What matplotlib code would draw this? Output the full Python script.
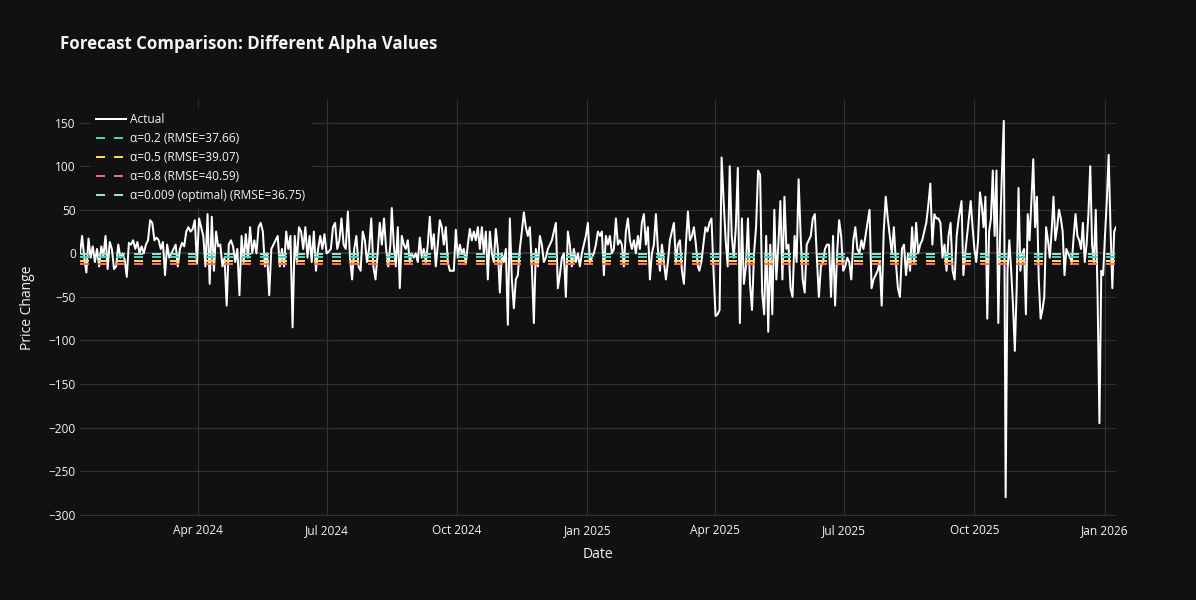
import matplotlib
matplotlib.use('Agg')
import matplotlib.pyplot as plt
import matplotlib.dates as mdates
import pandas as pd

plt.rcParams['font.family'] = ['Open Sans', 'DejaVu Sans']

# actual daily price change in four stretches
seg_spans = [("2024-01-09", "2024-08-15"), ("2024-08-16", "2025-03-20"),
             ("2025-03-21", "2025-09-20"), ("2025-09-22", "2026-01-09")]

actual_1 = [0, 20, -5, -22, 17, -5, 8, -10, 5, -15,
            8, -3, 20, -18, 13, 5, -18, -15, 10, -5,
            0, -7, -27, 12, 10, 15, 5, 13, 0, 8,
            0, 10, 15, 38, 35, 15, 18, 15, 5, 13,
            -25, 10, -5, 0, 5, 10, -15, 5, 12, 8,
            25, 30, 25, 28, 38, -12, 40, 30, 20, -15,
            45, -35, 42, -20, 25, 8, 10, -15, -5, -60,
            10, 15, 8, -10, 5, -48, 20, -10, 22, -5,
            30, 0, 15, 0, 30, 35, 25, -15, 0, -48,
            5, 10, 15, 20, -15, 5, -15, 25, 5, 20,
            -85, 20, -10, 30, 25, 5, 30, -5, 20, -10,
            25, -20, 5, 20, 5, 22, 0, 2, 5, 30,
            35, 5, 15, 40, 10, 5, 48, -5, -30, 5,
            20, -15, -20, 25, 15, -10, 5, 40, -15, -30,
            0, 35, 10, 40, 5, -15, 10]

actual_2 = [52, 10, -15, 30, -40, 20, 10, 5, 15, -10,
            0, -5, 0, -10, 18, -5, 5, -10, 10, 42,
            5, 22, -15, 10, 38, 30, 10, 30, -10, -20,
            -20, -20, 27, -5, 10, 0, 5, -12, 10, 28,
            15, 25, 15, 30, 5, 30, 0, 25, -30, 25,
            0, -10, 28, 5, -45, 0, -10, 5, -82, 40,
            -30, -63, -30, -25, 5, 25, 47, 30, 20, 30,
            -15, -80, 5, -15, 20, 10, -10, -5, 5, 10,
            15, 25, 35, -40, -25, -5, 0, -50, 25, 10,
            -15, 5, -10, 0, -15, 0, 10, 20, 35, -10,
            -5, 0, 10, 25, 20, 25, -25, 20, 10, 20,
            0, 5, 40, 10, 15, 10, -15, 25, 40, 15,
            5, 15, 0, 20, 5, 35, 45, 10, 30, -30,
            0, 10, 45, 5, -20, 10, -10, -30, -10, 15,
            25, 35, -10, 10, 15, -20, -35, 10, 48, 15,
            20, 30, 10, -15]

actual_3 = [-20, -10, 10, 30, 25, 35, 40, -20, -72, -70,
            -65, 110, 60, 15, -15, 100, 20, -5, 30, 98,
            -80, 40, -35, -15, 40, -35, -65, 0, 30, 95,
            90, -45, -70, 20, -90, 10, -70, 50, -30, 10,
            60, -30, 65, 5, 10, -40, -50, 20, -10, 85,
            20, -30, -45, 10, 15, 20, 40, 45, -5, -50,
            -15, -10, 5, 10, 10, -50, 20, -60, 0, 38,
            20, -20, -15, -5, -10, -30, 15, 30, 5, 0,
            15, 5, 20, 35, 50, -40, -30, -25, -20, -10,
            -60, 25, 65, 40, 20, 0, 30, -10, -40, -50,
            5, 10, -25, 0, -20, 30, -10, 35, 0, 10,
            15, 25, 35, 55, 80, 10, 45, 40, 40, 35,
            -5, 10, -20, 20, 35, -20, -30, 20, 40]

actual_4 = [60, -25, 0, 20, 40, 60, 30, 5, -10, 15,
            70, 55, 30, 65, -75, 25, 40, 95, 20, 95,
            -80, 25, 95, 152, -280, -20, 15, -20, -60, -112,
            -40, 75, -20, 0, 5, -70, 45, 15, 60, 108,
            30, 65, -30, -75, -65, -50, 30, 15, -5, 25,
            65, 15, 30, 50, 40, 25, -25, 5, 0, -5,
            -10, 20, 45, 20, 15, 5, 35, -10, 10, 45,
            100, 10, -10, 50, -50, -195, -20, -25, 20, 60,
            113, 30, -40, 25, 30]

forecast_labels = ["α=0.2 (RMSE=37.66)", "α=0.5 (RMSE=39.07)",
                   "α=0.8 (RMSE=40.59)", "α=0.009 (optimal) (RMSE=36.75)"]
forecast_levels = [-4, -9, -12, -1]
forecast_colors = ["#4ECDC4", "#FFD93D", "#FF6B6B", "#95E1D3"]

title = "Forecast Comparison: Different Alpha Values"
tick_dates = ["2024-04-01", "2024-07-01", "2024-10-01", "2025-01-01",
              "2025-04-01", "2025-07-01", "2025-10-01", "2026-01-01"]

BG = "#111111"
GRID = "#283442"
TXT = "#f2f5fa"

segs = [actual_1, actual_2, actual_3, actual_4]
dates = []
actual = []
for (s, e), vals in zip(seg_spans, segs):
    dates += list(pd.date_range(s, e, periods=len(vals)))
    actual += vals

fig = plt.figure(figsize=(11.96, 6), dpi=100, facecolor=BG)
ax = fig.add_axes([80/1196, 84/600, 1036/1196, 416/600], facecolor=BG)

ax.axhline(0, color=GRID, lw=1.44, zorder=1)
ax.plot(dates, actual, color="white", lw=1.44, label="Actual", zorder=3)
for lvl, lab, c in zip(forecast_levels, forecast_labels, forecast_colors):
    ax.plot(dates, [lvl] * len(dates), color=c, lw=1.44, dashes=(4.5, 4.5),
            label=lab, zorder=4)

ax.set_xlim(dates[0], dates[-1])
ax.set_ylim(-301.5, 176)
ax.set_yticks(range(-300, 151, 50))
ax.set_xticks(pd.to_datetime(tick_dates))
ax.xaxis.set_major_formatter(mdates.DateFormatter("%b %Y"))
ax.grid(True, color=GRID, lw=0.8, zorder=0)
ax.set_axisbelow(True)
for sp in ax.spines.values():
    sp.set_visible(False)
ax.tick_params(length=0, colors=TXT, labelsize=8.6)
ax.tick_params(axis="y", pad=3)
ax.tick_params(axis="x", pad=6)

leg = ax.legend(loc="upper left", bbox_to_anchor=(0.011, 0.98), borderaxespad=0,
                frameon=True, facecolor=BG, edgecolor=BG, framealpha=1,
                fontsize=8.6, handlelength=2.5, handletextpad=0.35,
                labelspacing=0.5, borderpad=0.4)
for t in leg.get_texts():
    t.set_color(TXT)
leg.set_zorder(10)

fig.text(60/1196, 1 - 44/600, title, fontsize=12.2, weight="bold",
         color=TXT, va="center", ha="left")
fig.text(598/1196, 1 - 555/600, "Date", fontsize=10, color=TXT,
         ha="center", va="center")
fig.text(28/1196, 1 - 308/600, "Price Change", fontsize=10, color=TXT,
         ha="center", va="center", rotation=90)

fig.savefig("out.png", dpi=100, facecolor=BG)
